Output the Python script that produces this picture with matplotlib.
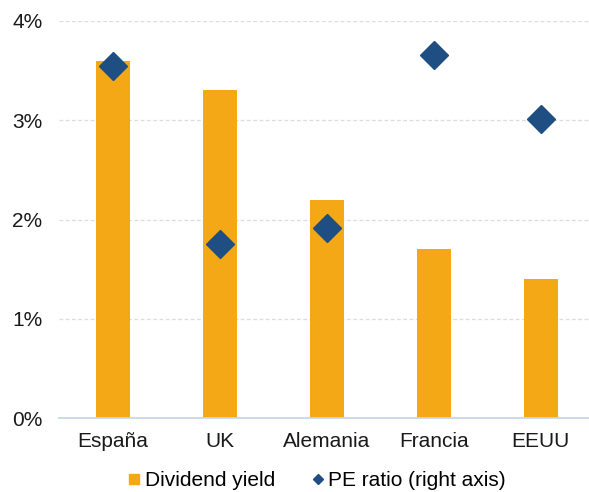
import matplotlib
matplotlib.use("Agg")
import matplotlib.pyplot as plt
from matplotlib.lines import Line2D

plt.rcParams['font.family'] = ['Liberation Sans', 'DejaVu Sans']

countries = ["España", "UK", "Alemania", "Francia", "EEUU"]
dividend_yield = [3.6, 3.3, 2.2, 1.7, 1.4]          # %
pe_ratio_scaled = [3.55, 1.75, 1.91, 3.66, 3.01]    # plotted on hidden right axis
y_ticks = [0, 1, 2, 3, 4]
y_tick_labels = ["0%", "1%", "2%", "3%", "4%"]

bar_color = "#F5A816"
diamond_color = "#1F4E82"
font_size = 15

fig = plt.figure(figsize=(5.89, 4.92), dpi=100)
ax = fig.add_axes([59 / 589, 74 / 492, 1 - 59 / 589, (418 - 21) / 492])

x = list(range(len(countries)))
ax.bar(x, dividend_yield, width=0.32, color=bar_color, zorder=2)
ax.set_xlim(-0.505, 4.45)
ax.set_ylim(0, 4)
ax.set_yticks(y_ticks)
ax.set_yticklabels(y_tick_labels)
ax.set_xticks(x)
ax.set_xticklabels(countries)
ax.tick_params(axis='both', length=0, labelsize=font_size, colors="#1a1a1a")
ax.tick_params(axis='y', pad=12)
ax.tick_params(axis='x', pad=10)
ax.grid(axis='y', color="#dcdcdc", linestyle=(0, (3, 2)), linewidth=0.9, zorder=0)
for side in ["top", "right", "left"]:
    ax.spines[side].set_visible(False)
ax.spines["bottom"].set_color("#C9D6E8")
ax.spines["bottom"].set_linewidth(1.3)
ax.spines["bottom"].set_zorder(3)

ax2 = ax.twinx()
ax2.set_ylim(0, 4)
ax2.plot(x, pe_ratio_scaled, linestyle="none", marker="D", markersize=14,
         color=diamond_color, zorder=4)
ax2.set_yticks([])
for side in ["top", "right", "left", "bottom"]:
    ax2.spines[side].set_visible(False)

handles = [
    Line2D([], [], linestyle="none", marker="s", markersize=7.5, color=bar_color),
    Line2D([], [], linestyle="none", marker="D", markersize=5, color=diamond_color),
]
fig.legend(handles, ["Dividend yield", "PE ratio (right axis)"],
           loc="center", bbox_to_anchor=(317 / 589, 1 - 481 / 492), ncol=2,
           frameon=False, fontsize=font_size, handlelength=0.6, handletextpad=0.2,
           columnspacing=1.75, borderpad=0)

fig.savefig("out.png", dpi=100)
